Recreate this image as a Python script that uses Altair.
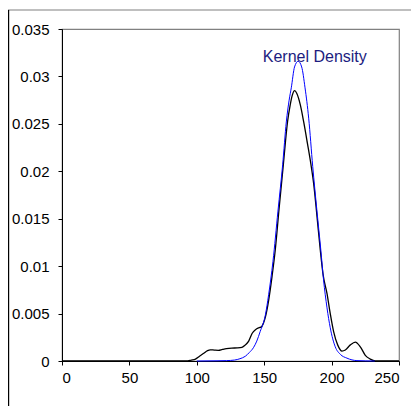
import altair as alt
import pandas as pd

FONT = "Liberation Sans"

# Kernel density estimate (black)
kde_x = [0, 92, 96, 99, 102, 105, 108, 110, 113, 116, 119, 122, 126, 130, 133.5, 136,
         138.5, 141, 143.5, 146, 148, 149.5, 151, 153.3, 155.8, 158.2, 161, 164.2, 167.3,
         169.3, 170.8, 172.6, 174.2, 176.8, 179.3, 182, 184.7, 186.7, 189.2, 191.6, 193.6,
         196.6, 199, 201.5, 204.5, 207.7, 210.2, 213.9, 217.6, 221.3, 225, 228.7, 232.4, 250]
kde_y = [0, 0, 0.0001, 0.0002, 0.0005, 0.0008, 0.0011, 0.00118, 0.00115, 0.00113, 0.00122,
         0.0013, 0.00136, 0.00138, 0.00144, 0.0017, 0.0021, 0.0029, 0.0033, 0.0035, 0.0036,
         0.0040, 0.0047, 0.0064, 0.0089, 0.0117, 0.0160, 0.0207, 0.0252, 0.0270, 0.0280,
         0.0285, 0.0282, 0.0270, 0.0252, 0.0230, 0.0207, 0.0187, 0.0152, 0.0117, 0.0092,
         0.0071, 0.0050, 0.0031, 0.0017, 0.00105, 0.00116, 0.0017, 0.0020, 0.0015, 0.0006,
         0.0002, 0, 0]

# Normal curve (blue)
norm_x = [100, 115, 122, 128, 132, 136, 139, 142, 144.5, 147, 150.8, 153.3, 156.5, 160.2,
          163.7, 166.4, 168.5, 170.1, 172.5, 175.2, 177.8, 180.3, 183, 186, 189, 192, 194,
          196.6, 199, 202.7, 206.5, 211.4, 218.8, 232]
norm_y = [0, 0.00002, 0.00004, 0.0001, 0.00024, 0.0005, 0.0009, 0.0014, 0.0021, 0.0031,
          0.0048, 0.0070, 0.0105, 0.0158, 0.0207, 0.0252, 0.0275, 0.0288, 0.0310, 0.0316,
          0.0310, 0.0288, 0.0256, 0.0205, 0.0160, 0.0117, 0.0086, 0.0056, 0.0035, 0.0015,
          0.0007, 0.0003, 0.00004, 0]

x_ticks = [0, 50, 100, 150, 200, 250]
y_ticks = [0, 0.005, 0.01, 0.015, 0.02, 0.025, 0.03, 0.035]

label_text = ["Kernel Density"]
label_x = [187.5]
label_y = [0.0315]

kde = pd.DataFrame({"x": kde_x, "y": kde_y})
norm = pd.DataFrame({"x": norm_x, "y": norm_y})
lab = pd.DataFrame({"x": label_x, "y": label_y, "t": label_text})

xs = alt.Scale(domain=[0, 250], nice=False, zero=False)
ys = alt.Scale(domain=[0, 0.035], nice=False)

xaxis = alt.Axis(values=x_ticks, format="d", grid=False, title=None,
                 domainColor="black", tickColor="black", tickSize=4,
                 labelPadding=5, labelFontSize=15, labelFont=FONT, labelColor="black")
yaxis = alt.Axis(values=y_ticks, format="~g", grid=False, title=None,
                 domainColor="black", tickColor="black", tickSize=4,
                 labelPadding=9, labelFontSize=15, labelFont=FONT, labelColor="black")

black = alt.Chart(kde).mark_line(color="black", strokeWidth=1.3, interpolate="monotone").encode(
    x=alt.X("x:Q", scale=xs, axis=xaxis),
    y=alt.Y("y:Q", scale=ys, axis=yaxis),
)
blue = alt.Chart(norm).mark_line(color="#0000ff", strokeWidth=1.0, interpolate="monotone").encode(
    x=alt.X("x:Q", scale=xs),
    y=alt.Y("y:Q", scale=ys),
)
text = alt.Chart(lab).mark_text(font=FONT, fontSize=16, color="#1c1c80",
                                align="center", baseline="alphabetic").encode(
    x=alt.X("x:Q", scale=xs),
    y=alt.Y("y:Q", scale=ys),
    text="t:N",
)

frame_df = pd.DataFrame({"k": [0]})
top_frame = alt.Chart(frame_df).mark_rule(color="#808080", strokeWidth=1.2).encode(
    x=alt.value(-54), x2=alt.value(349), y=alt.value(-19))
left_frame = alt.Chart(frame_df).mark_rule(color="black", strokeWidth=1.2).encode(
    x=alt.value(-53.4), y=alt.value(-19), y2=alt.value(377))

chart = alt.layer(black, blue, text, top_frame, left_frame).properties(
    width=337, height=332,
    padding={"left": 54, "top": 21, "right": 12, "bottom": 45},
    autosize=alt.AutoSizeParams(type="none"),
    background="white",
).configure_view(stroke="#808080", strokeWidth=1.2)

chart.save("out.html", embed_options={"renderer": "svg", "actions": False})
